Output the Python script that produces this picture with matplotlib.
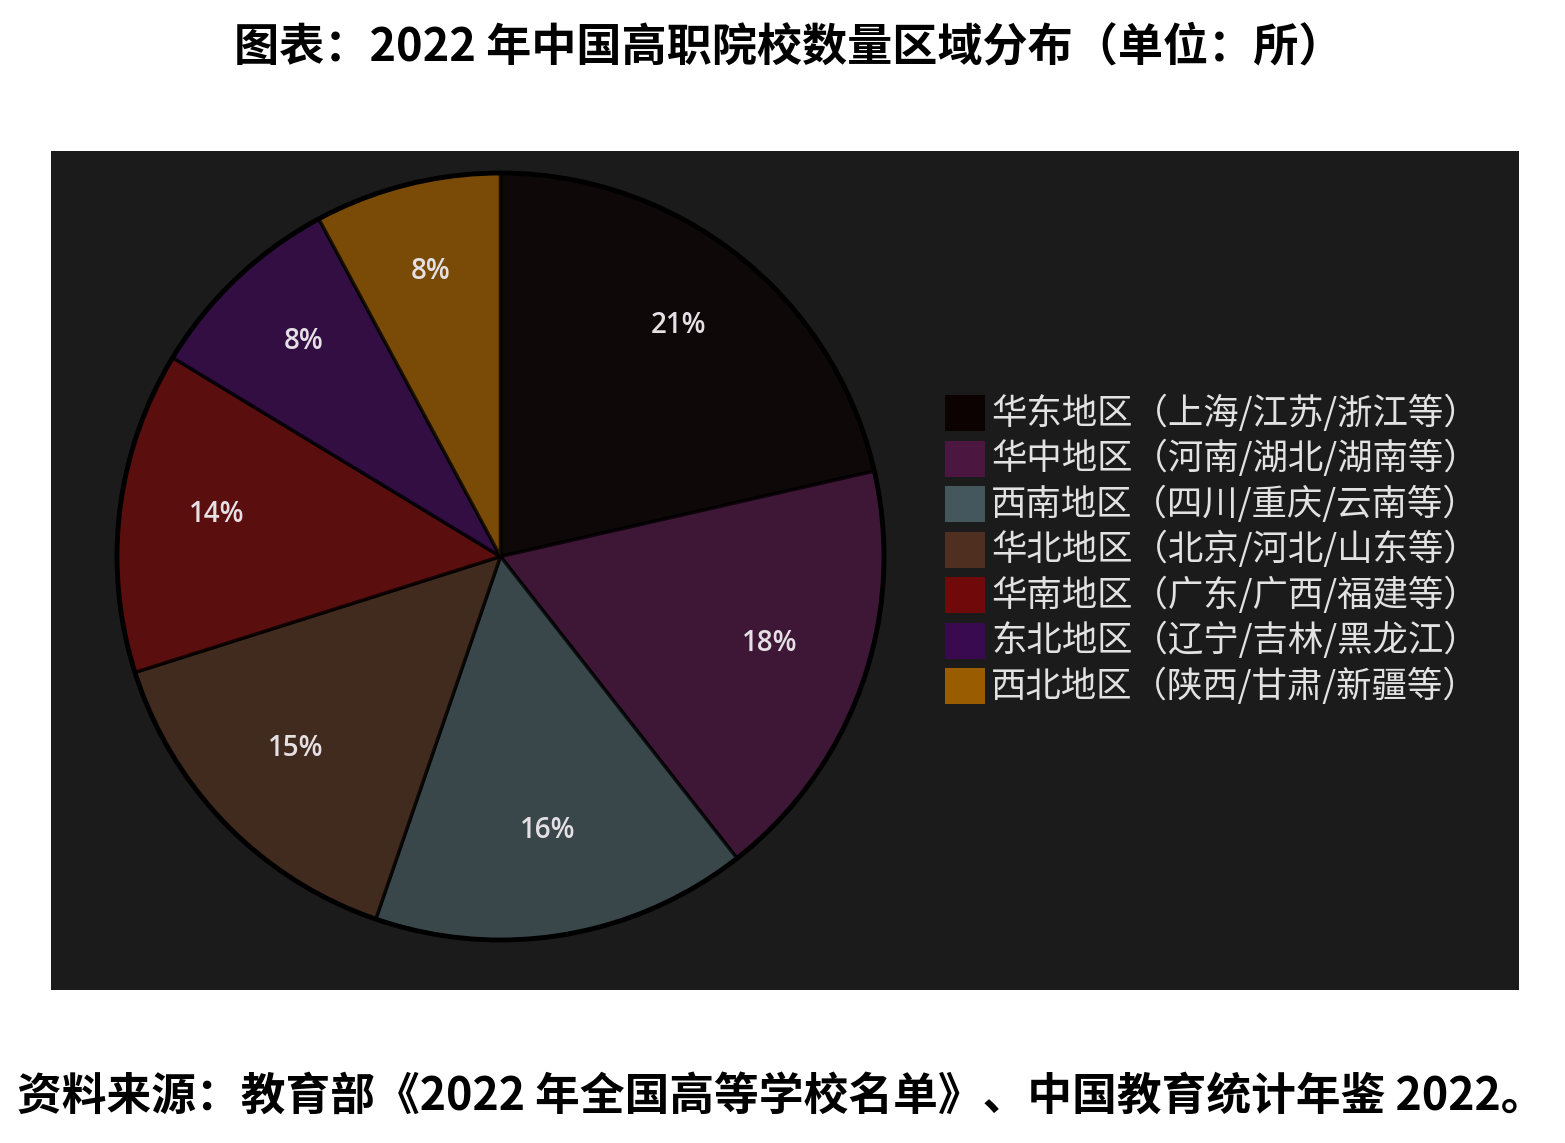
import matplotlib
matplotlib.use("Agg")
import matplotlib.pyplot as plt
from matplotlib.patches import Rectangle, Circle

plt.rcParams['font.family'] = ['Noto Sans CJK SC', 'DejaVu Sans']

regions = ["华东地区（上海/江苏/浙江等）", "华中地区（河南/湖北/湖南等）", "西南地区（四川/重庆/云南等）",
           "华北地区（北京/河北/山东等）", "华南地区（广东/广西/福建等）", "东北地区（辽宁/吉林/黑龙江）",
           "西北地区（陕西/甘肃/新疆等）"]
schools = [319, 268, 236, 221, 202, 126, 117]
colors = ["#0c0202", "#4b1640", "#44575c", "#4f3020", "#700a0a", "#3a0a50", "#9a5c00"]

title = "图表：2022 年中国高职院校数量区域分布（单位：所）"
source = "资料来源：教育部《2022 年全国高等学校名单》、中国教育统计年鉴 2022。"

W, H = 1565, 1143
fig = plt.figure(figsize=(W / 100, H / 100), dpi=100)
fig.patch.set_facecolor("white")

# dark panel
ax_l, ax_r, ax_t, ax_b = 51, 1519, 151, 990
ax = fig.add_axes([ax_l / W, (H - ax_b) / H, (ax_r - ax_l) / W, (ax_b - ax_t) / H])
pw, ph = ax_r - ax_l, ax_b - ax_t
ax.add_patch(Rectangle((0, 0), pw, ph, facecolor="#1b1b1b", edgecolor="none", zorder=0))

cx, cy, r = 500.5 - ax_l, ax_b - 556.5, 383.5
wedges, texts, autotexts = ax.pie(
    schools, colors=colors, startangle=90, counterclock=False,
    center=(cx, cy), radius=r, autopct="%.0f%%", pctdistance=0.745,
    wedgeprops=dict(edgecolor="black", linewidth=2.5, alpha=0.75),
    textprops=dict(color="#e4e0e4", fontsize=20, fontweight="semibold",
                   family=['Open Sans', 'DejaVu Sans']),
    frame=True)
for w in wedges:
    w.set_zorder(2)
ax.add_patch(Circle((cx, cy), r, facecolor="none", edgecolor="black", linewidth=3.5, zorder=3))
for t in autotexts:
    x, y = t.get_position()
    t.set_position((x, y + 8))
    t.set_zorder(4)
ax.set_xlim(0, pw)
ax.set_ylim(0, ph)
ax.set_aspect("equal")
ax.axis("off")

# legend (manual)
row_y = [413, 458.5, 504, 549.5, 595, 640.5, 686]
for i, (lab, col) in enumerate(zip(regions, colors)):
    yc = ax_b - row_y[i]
    ax.add_patch(Rectangle((945 - ax_l, yc - 18), 40, 36, facecolor=col, edgecolor="none", zorder=5))
    ax.text(991 - ax_l, yc, lab, color="#e2e2e2", fontsize=25.5, va="center", ha="left", zorder=5)

fig.text(789 / W, 1 - 47 / H, title, ha="center", va="center", fontsize=32.5, fontweight="bold", color="black")
fig.text(781 / W, 1 - 1097 / H, source, ha="center", va="center", fontsize=32.2, fontweight="bold", color="black")

fig.savefig("out.png", dpi=100, facecolor="white")
